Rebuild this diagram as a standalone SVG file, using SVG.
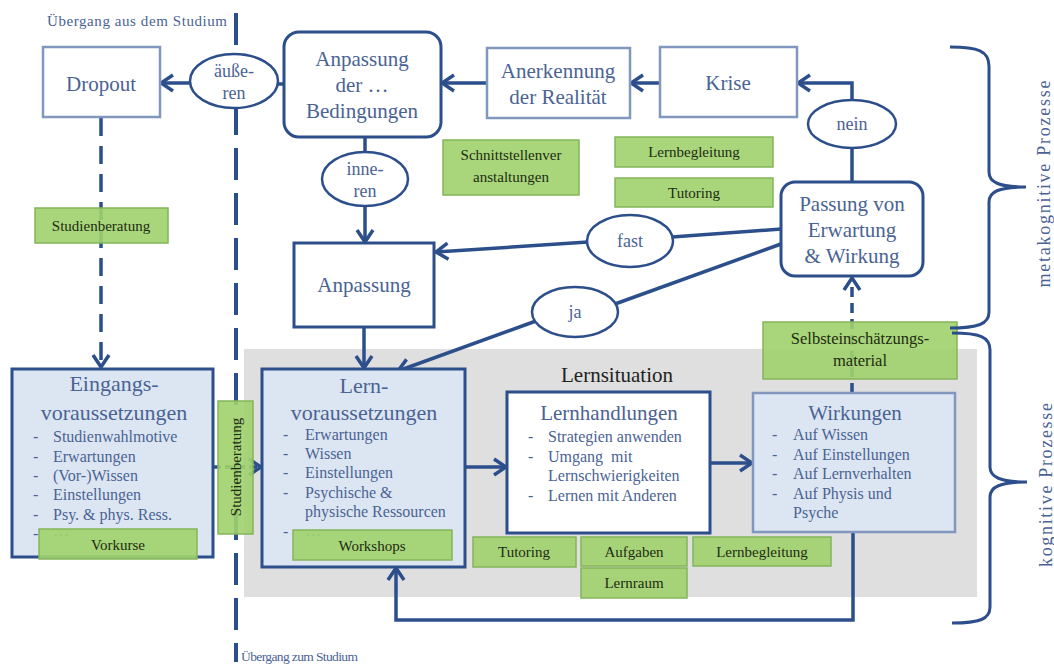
<svg xmlns="http://www.w3.org/2000/svg" width="1054" height="666" viewBox="0 0 1054 666">
<style>
.t{font-family:"Liberation Serif","Times New Roman",serif;fill:#4a6394}
.h{font-size:21px;text-anchor:middle}
.e{font-size:18px;text-anchor:middle}
.li{font-size:16px}
.g{font-family:"Liberation Serif","Times New Roman",serif;font-size:15px;fill:#1e2b12;text-anchor:middle}
.gl{font-size:16.5px}
.lb{fill:#fff;stroke:#8197bd;stroke-width:2.5}
.db{fill:#fff;stroke:#2c4f8c;stroke-width:3}
.bl{fill:#dce6f2;stroke:#2c4f8c;stroke-width:3}
.bll{fill:#dce6f2;stroke:#8197bd;stroke-width:2.5}
.el{fill:#fff;stroke:#2c4f8c;stroke-width:2.5}
.gr{fill:#a0d16c;fill-opacity:0.9;stroke:#84b55a;stroke-width:1.5}
.c{fill:none;stroke:#2c4f8c;stroke-width:3.5}
.brace{fill:none;stroke:#2c4f8c;stroke-width:3}
</style>
<defs>
<marker id="arr" viewBox="0 0 20 20" refX="17" refY="10" markerWidth="20" markerHeight="20" markerUnits="userSpaceOnUse" orient="auto">
<path d="M5,2 L17,10 L5,18" fill="none" stroke="#2c4f8c" stroke-width="3.5"/>
</marker>
</defs>
<rect x="0" y="0" width="1054" height="666" fill="#fff"/>
<g id="lernsituation-bg">
<rect x="244" y="349" width="733" height="248" fill="#dfdfdf"/>
<text x="617" y="382" font-family="Liberation Serif, serif" font-size="21" fill="#222" text-anchor="middle">Lernsituation</text>
</g>
<g id="transition-line">
<line x1="236" y1="13" x2="236" y2="662" stroke="#2c4f8c" stroke-width="4" stroke-dasharray="32 13"/>
<text class="t" x="47" y="26" font-size="15" textLength="180">Übergang aus dem Studium</text>
<text class="t" x="241" y="661" font-size="13.5" textLength="117">Übergang zum Studium</text>
</g>
<g id="connectors">
<line class="c" x1="284" y1="84" x2="276" y2="84"/>
<line class="c" x1="191" y1="83" x2="161" y2="83" marker-end="url(#arr)"/>
<line class="c" x1="487" y1="83" x2="442" y2="83" marker-end="url(#arr)"/>
<line class="c" x1="660" y1="83" x2="631" y2="83" marker-end="url(#arr)"/>
<path class="c" d="M852,101 V83 H798" marker-end="url(#arr)"/>
<line class="c" x1="852" y1="182" x2="852" y2="147"/>
<line class="c" x1="365" y1="137" x2="365" y2="153"/>
<line class="c" x1="365" y1="206" x2="365" y2="242" marker-end="url(#arr)"/>
<line class="c" x1="781" y1="229" x2="672" y2="237"/>
<line class="c" x1="588" y1="242" x2="436" y2="252" marker-end="url(#arr)"/>
<line class="c" x1="781" y1="244" x2="615" y2="304"/>
<line class="c" x1="536" y1="321" x2="398" y2="371" marker-end="url(#arr)"/>
<line class="c" x1="364" y1="327" x2="364" y2="368" marker-end="url(#arr)"/>
<line class="c" x1="101" y1="118" x2="101" y2="367" stroke-width="4" stroke-dasharray="18 10" marker-end="url(#arr)"/>
<line class="c" x1="213" y1="467" x2="261" y2="467" stroke-dasharray="8 4" marker-end="url(#arr)"/>
<line class="c" x1="465" y1="467" x2="506" y2="467" marker-end="url(#arr)"/>
<line class="c" x1="710" y1="463" x2="752" y2="463" marker-end="url(#arr)"/>
<line class="c" x1="852" y1="393" x2="852" y2="278" stroke-dasharray="10 6" marker-end="url(#arr)"/>
<path class="c" d="M853,532 V620 H396 V568" marker-end="url(#arr)"/>
</g>
<g id="dropout">
<rect class="lb" x="43" y="47" width="117" height="70"/>
<text class="t h" x="101" y="91">Dropout</text>
</g>
<g id="aeusseren">
<ellipse class="el" cx="234" cy="81" rx="44" ry="27"/>
<text class="t e" x="234" y="77">äuße-</text>
<text class="t e" x="234" y="99">ren</text>
</g>
<g id="anpassung-bedingungen">
<rect class="db" x="284" y="32" width="157" height="105" rx="15"/>
<text class="t h" x="362" y="66">Anpassung</text>
<text class="t h" x="362" y="92">der …</text>
<text class="t h" x="362" y="118">Bedingungen</text>
</g>
<g id="anerkennung">
<rect class="lb" x="487" y="48" width="143" height="70"/>
<text class="t h" x="558" y="78">Anerkennung</text>
<text class="t h" x="558" y="104">der Realität</text>
</g>
<g id="krise">
<rect class="lb" x="660" y="47" width="137" height="70"/>
<text class="t h" x="728" y="90">Krise</text>
</g>
<g id="nein">
<ellipse class="el" cx="852" cy="124" rx="44" ry="24"/>
<text class="t e" x="852" y="130">nein</text>
</g>
<g id="passung">
<rect class="db" x="781" y="182" width="142" height="94" rx="14"/>
<text class="t h" x="852" y="211">Passung von</text>
<text class="t h" x="852" y="237">Erwartung</text>
<text class="t h" x="852" y="263">&amp; Wirkung</text>
</g>
<g id="inneren">
<ellipse class="el" cx="365" cy="179" rx="43" ry="27"/>
<text class="t e" x="365" y="175">inne-</text>
<text class="t e" x="365" y="197">ren</text>
</g>
<g id="fast">
<ellipse class="el" cx="630" cy="241" rx="43" ry="26"/>
<text class="t e" x="630" y="247">fast</text>
</g>
<g id="ja">
<ellipse class="el" cx="575" cy="312" rx="43" ry="25"/>
<text class="t e" x="575" y="318">ja</text>
</g>
<g id="anpassung">
<rect class="db" x="294" y="243" width="140" height="84"/>
<text class="t h" x="364" y="292">Anpassung</text>
</g>
<g id="eingangsvoraussetzungen">
<rect class="bl" x="12" y="369" width="201" height="188"/>
<text class="t" x="114" y="391" font-size="22" text-anchor="middle">Eingangs-</text>
<text class="t" x="114" y="420" font-size="22" text-anchor="middle">voraussetzungen</text>
<g class="t li">
<text x="33" y="442">-</text><text x="53" y="442">Studienwahlmotive</text>
<text x="33" y="462">-</text><text x="53" y="462">Erwartungen</text>
<text x="33" y="481">-</text><text x="53" y="481">(Vor-)Wissen</text>
<text x="33" y="500">-</text><text x="53" y="500">Einstellungen</text>
<text x="33" y="520">-</text><text x="53" y="520">Psy. &amp; phys. Ress.</text>
<text x="33" y="539">-</text><text x="53" y="536">…</text>
</g>
</g>
<g id="lernvoraussetzungen">
<rect class="bl" x="262" y="369" width="203" height="198"/>
<text class="t" x="364" y="393" font-size="22" text-anchor="middle">Lern-</text>
<text class="t" x="364" y="420" font-size="22" text-anchor="middle">voraussetzungen</text>
<g class="t li">
<text x="283" y="440">-</text><text x="305" y="440">Erwartungen</text>
<text x="283" y="459">-</text><text x="305" y="459">Wissen</text>
<text x="283" y="478">-</text><text x="305" y="478">Einstellungen</text>
<text x="283" y="498">-</text><text x="305" y="498">Psychische &amp;</text>
<text x="305" y="517">physische Ressourcen</text>
<text x="283" y="537">-</text><text x="305" y="536">…</text>
</g>
</g>
<g id="lernhandlungen">
<rect class="db" x="507" y="392" width="203" height="141"/>
<text class="t h" x="609" y="420">Lernhandlungen</text>
<g class="t li">
<text x="528" y="442">-</text><text x="548" y="442">Strategien anwenden</text>
<text x="528" y="462">-</text><text x="548" y="462" word-spacing="4">Umgang mit</text>
<text x="548" y="481">Lernschwierigkeiten</text>
<text x="528" y="501">-</text><text x="548" y="501">Lernen mit Anderen</text>
</g>
</g>
<g id="wirkungen">
<rect class="bll" x="753" y="393" width="202" height="139"/>
<text class="t h" x="855" y="420">Wirkungen</text>
<g class="t li">
<text x="772" y="440">-</text><text x="793" y="440">Auf Wissen</text>
<text x="772" y="460">-</text><text x="793" y="460">Auf Einstellungen</text>
<text x="772" y="479">-</text><text x="793" y="479">Auf Lernverhalten</text>
<text x="772" y="499">-</text><text x="793" y="499">Auf Physis und</text>
<text x="793" y="518">Psyche</text>
</g>
</g>
<g id="g-studienberatung-top">
<rect class="gr" x="35" y="208" width="133" height="35"/>
<text class="g" x="101" y="231">Studienberatung</text>
</g>
<g id="g-schnittstellen">
<rect class="gr" x="443" y="140" width="136" height="55"/>
<text class="g" x="511" y="160">Schnittstellenver</text>
<text class="g" x="511" y="182">anstaltungen</text>
</g>
<g id="g-lernbegleitung-top">
<rect class="gr" x="615" y="137" width="158" height="30"/>
<text class="g" x="694" y="157">Lernbegleitung</text>
</g>
<g id="g-tutoring-top">
<rect class="gr" x="615" y="178" width="158" height="29"/>
<text class="g" x="694" y="198">Tutoring</text>
</g>
<g id="g-selbsteinschaetzung">
<rect class="gr" x="763" y="322" width="194" height="57"/>
<text class="g gl" x="860" y="344">Selbsteinschätzungs-</text>
<text class="g gl" x="860" y="366">material</text>
</g>
<g id="g-vorkurse">
<rect class="gr" x="39" y="529" width="158" height="30"/>
<text class="g" x="118" y="550">Vorkurse</text>
</g>
<g id="g-studienberatung-side">
<rect class="gr" x="218" y="401" width="35" height="133"/>
<text class="g" transform="translate(236,467) rotate(-90)" x="0" y="5">Studienberatung</text>
</g>
<g id="g-workshops">
<rect class="gr" x="293" y="530" width="159" height="30"/>
<text class="g" x="372" y="551">Workshops</text>
</g>
<g id="g-tutoring">
<rect class="gr" x="473" y="537" width="103" height="30"/>
<text class="g" x="524" y="557">Tutoring</text>
</g>
<g id="g-aufgaben">
<rect class="gr" x="581" y="537" width="106" height="29"/>
<text class="g" x="634" y="557">Aufgaben</text>
</g>
<g id="g-lernbegleitung">
<rect class="gr" x="693" y="537" width="138" height="29"/>
<text class="g" x="762" y="557">Lernbegleitung</text>
</g>
<g id="g-lernraum">
<rect class="gr" x="581" y="568" width="106" height="30"/>
<text class="g" x="634" y="588">Lernraum</text>
</g>
<g id="brace-meta">
<path class="brace" d="M950,47 C978,47 989,51 989,66 V172 C989,182 998,187 1026,187 C998,187 989,192 989,202 V312 C989,324 978,328 950,328"/>
<text class="t" transform="translate(1044,184) rotate(-90)" x="0" y="6" font-size="18" text-anchor="middle" textLength="207">metakognitive Prozesse</text>
</g>
<g id="brace-kog">
<path class="brace" d="M952,333 C980,333 990,337 990,350 V467 C990,477 1000,482 1027,482 C1000,482 990,487 990,497 V607 C990,619 980,623 952,623"/>
<text class="t" transform="translate(1046,485) rotate(-90)" x="0" y="6" font-size="18" text-anchor="middle" textLength="164">kognitive Prozesse</text>
</g>
</svg>
